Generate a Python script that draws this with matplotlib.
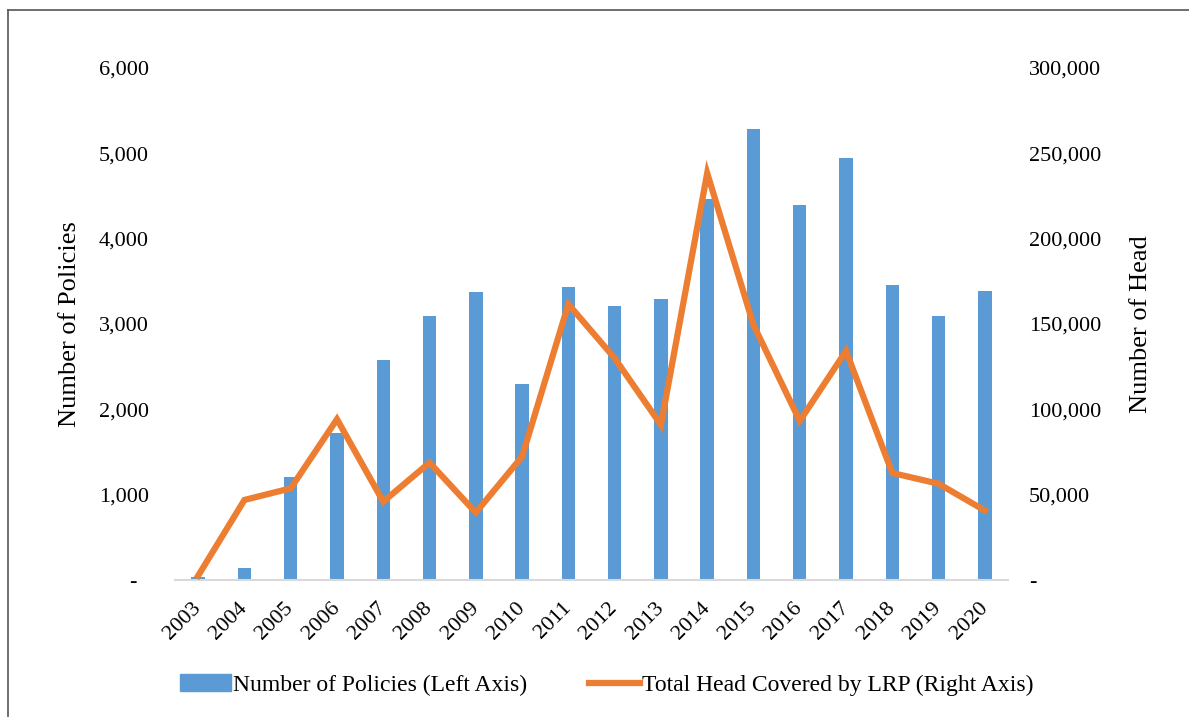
import numpy as np
import matplotlib
matplotlib.use("Agg")
import matplotlib.pyplot as plt
from matplotlib.lines import Line2D
from matplotlib.ticker import FuncFormatter

plt.rcParams['font.family'] = ['Liberation Serif', 'DejaVu Serif']

years = [str(y) for y in range(2003, 2021)]
policies = [35, 137, 1204, 1720, 2579, 3095, 3373, 2301, 3431, 3212,
            3298, 4470, 5290, 4389, 4940, 3461, 3095, 3389]
head = [2500, 46900, 53700, 94200, 45900, 68800, 39500, 72300, 161600, 130000,
        90900, 238400, 149500, 93200, 134200, 62700, 56400, 40700]

blue = '#5B9BD5'
orange = '#ED7D31'

fig = plt.figure(figsize=(11.89, 7.17), dpi=100)
ax = fig.add_axes([175/1189, 1-580/717, (1008-175)/1189, (580-68)/717])
ax2 = ax.twinx()

x = np.arange(len(years))
ax.bar(x, policies, width=0.29, color=blue, zorder=2)
ax2.plot(x, head, color=orange, lw=4.5, solid_joinstyle='miter', zorder=3)

ax.set_xlim(-0.5, len(years) - 0.5)
ax.set_ylim(0, 6000)
ax2.set_ylim(0, 300000)
ax.set_yticks(range(0, 6001, 1000))
ax2.set_yticks(range(0, 300001, 50000))

def fmt(v, pos):
    return '-  ' if v == 0 else f'{int(v):,}'

def fmt2(v, pos):
    return '-' if v == 0 else f'{int(v):,}'

ax.yaxis.set_major_formatter(FuncFormatter(fmt))
ax2.yaxis.set_major_formatter(FuncFormatter(fmt2))

ax.set_xticks(x)
ax.set_xticklabels(years, rotation=45, ha='right', va='center',
                   rotation_mode='anchor', fontsize=16)
ax.tick_params(axis='x', length=0, pad=18)
ax.tick_params(axis='y', length=0, pad=19, labelsize=16)
ax2.tick_params(axis='y', length=0, pad=15, labelsize=16)

for a in (ax, ax2):
    for s in a.spines.values():
        s.set_visible(False)
ax.spines['bottom'].set_visible(True)
ax.spines['bottom'].set_color('#D9D9D9')
ax.spines['bottom'].set_linewidth(1.5)

ax.set_ylabel('Number of Policies', fontsize=19, labelpad=13)
ax2.set_ylabel('Number of Head', fontsize=19, labelpad=21)

handles = [plt.Rectangle((0, 0), 1, 1, color=blue),
           Line2D([0], [0], color=orange, lw=4.5)]
fig.legend(handles, ['Number of Policies (Left Axis)', 'Total Head Covered by LRP (Right Axis)'],
           loc='center', bbox_to_anchor=(607/1189, 1-685/717), ncol=2, frameon=False,
           fontsize=17, handlelength=2.15, handletextpad=0.1, columnspacing=2.6)

# frame lines of the original picture
fig.add_artist(Line2D([8/1189, 8/1189], [0, 1-10/717], color='#555555', lw=1.2))
fig.add_artist(Line2D([8/1189, 1], [1-10/717, 1-10/717], color='#555555', lw=1.2))

fig.savefig('out.png', dpi=100)
